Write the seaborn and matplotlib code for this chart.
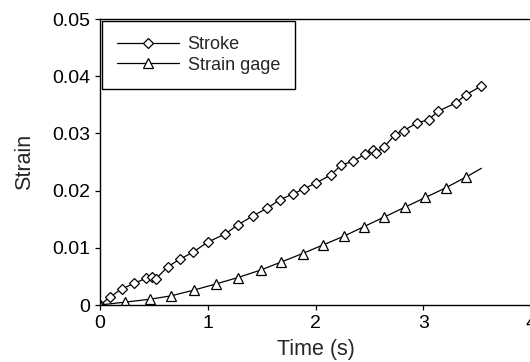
import matplotlib
matplotlib.use("Agg")
import matplotlib.pyplot as plt
import seaborn as sns
from matplotlib.ticker import FuncFormatter

# Stroke data (diamonds)
stroke_t = [0.0, 0.09, 0.20, 0.32, 0.43, 0.48, 0.52, 0.63, 0.74, 0.86, 1.00,
            1.16, 1.28, 1.42, 1.55, 1.67, 1.79, 1.89, 2.00, 2.14, 2.24, 2.35,
            2.46, 2.53, 2.56, 2.64, 2.74, 2.82, 2.94, 3.05, 3.14, 3.30, 3.40, 3.54]
stroke_s = [0.0, 0.00135, 0.0028, 0.0038, 0.0047, 0.0049, 0.0046, 0.0067, 0.0080, 0.0092, 0.0110,
            0.0124, 0.0140, 0.0156, 0.0169, 0.0184, 0.0194, 0.0203, 0.0213, 0.0227, 0.0245, 0.0251,
            0.0264, 0.0271, 0.0265, 0.0277, 0.0298, 0.0305, 0.0318, 0.0324, 0.0339, 0.0353, 0.0368, 0.0383]

# Strain gage data (triangles); last point is the line end without marker
gage_t = [0.0, 0.23, 0.46, 0.66, 0.87, 1.08, 1.28, 1.49, 1.68, 1.88, 2.07,
          2.26, 2.45, 2.64, 2.83, 3.02, 3.21, 3.40, 3.54]
gage_s = [0.0, 0.0005, 0.0010, 0.0016, 0.0026, 0.0037, 0.0048, 0.0061, 0.0075, 0.0090, 0.0105,
          0.0120, 0.0137, 0.0154, 0.0171, 0.0188, 0.0205, 0.0224, 0.0239]

x_ticks = [0, 1, 2, 3, 4]
y_ticks = [0, 0.01, 0.02, 0.03, 0.04, 0.05]

sns.set_theme(style="ticks")
plt.rcParams["font.family"] = ["Liberation Sans", "DejaVu Sans"]

fig = plt.figure(figsize=(5.3, 3.62), dpi=100)
ax = fig.add_axes([100 / 530, 57 / 362, 431 / 530, 286 / 362])

common = dict(color="black", linewidth=0.9, markerfacecolor="white",
              markeredgecolor="black", markeredgewidth=0.9, estimator=None, ax=ax)
sns.lineplot(x=stroke_t, y=stroke_s, marker="D", markersize=5, label="Stroke", **common)
sns.lineplot(x=gage_t, y=gage_s, marker="^", markersize=7, markevery=slice(0, len(gage_t) - 1),
             label="Strain gage", **common)

ax.set_xlim(0, 4)
ax.set_ylim(0, 0.05)
ax.set_xticks(x_ticks)
ax.set_yticks(y_ticks)
ax.yaxis.set_major_formatter(FuncFormatter(lambda v, p: f"{v:g}"))
ax.tick_params(direction="out", length=3.6, width=0.9, colors="black", labelsize=14, pad=3.5)
ax.set_xlabel("Time (s)", fontsize=15.5, labelpad=5)
ax.set_ylabel("Strain", fontsize=15.5, labelpad=12)
for side in ["left", "bottom", "top"]:
    ax.spines[side].set_linewidth(1.0)
    ax.spines[side].set_color("black")
ax.spines["right"].set_visible(False)
ax.spines["top"].set_visible(True)

leg = ax.legend(loc="upper left", fontsize=13, frameon=True, fancybox=False,
                edgecolor="black", framealpha=1, borderaxespad=0.1,
                handlelength=3.4, handletextpad=0.5, borderpad=0.85, labelspacing=0.2)
leg.get_frame().set_linewidth(1.0)

fig.savefig("out.png", dpi=100)
